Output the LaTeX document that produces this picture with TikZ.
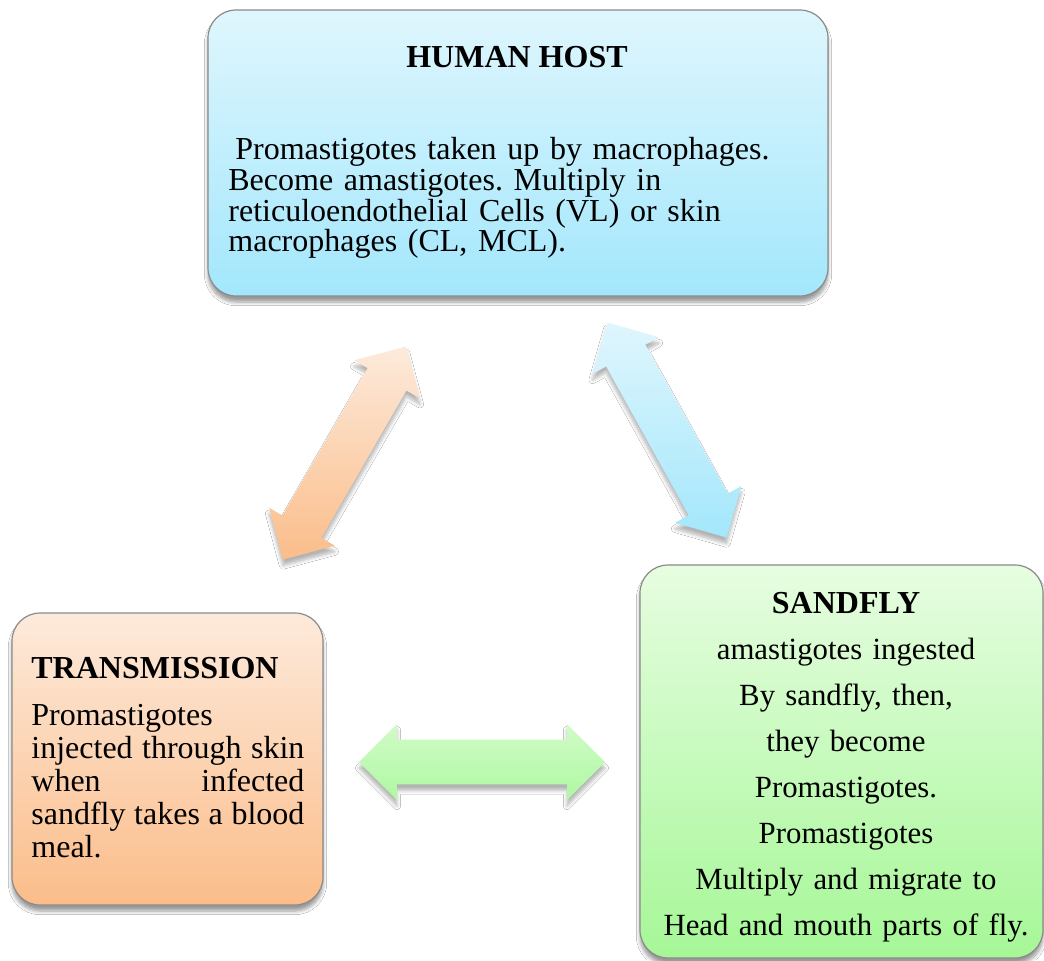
\documentclass[tikz,border=0pt]{standalone}
\usepackage{fontspec}
\setmainfont{Liberation Serif}
\usetikzlibrary{shapes.arrows,shadows.blur}

\definecolor{hosttop}{HTML}{DFF6FD}
\definecolor{hostbot}{HTML}{A3E7FC}
\definecolor{transtop}{HTML}{FDEADB}
\definecolor{transbot}{HTML}{FBBD8A}
\definecolor{flytop}{HTML}{E7FDE1}
\definecolor{flybot}{HTML}{A6F797}
\definecolor{edge}{HTML}{8A8A8A}

\begin{document}
\frenchspacing
\begin{tikzpicture}[x=0.5pt,y=-0.5pt,
    stage/.style={draw=edge,line width=0.6pt,rounded corners=14pt,inner sep=0pt,
        blur shadow={shadow xshift=0pt,shadow yshift=-3pt,shadow blur steps=6,shadow opacity=40}},
    title/.style={font=\fontsize{16}{19}\selectfont\bfseries,inner sep=0pt},
    body/.style 2 args={font=\fontsize{#1}{#2}\selectfont,inner sep=0pt},
    fatarrow/.style={double arrow,inner xsep=0pt,inner ysep=11pt,minimum height=123pt,
        minimum width=37.5pt,double arrow head extend=7.75pt,
        blur shadow={shadow xshift=0pt,shadow yshift=-3pt,shadow blur steps=6,shadow opacity=30}}]

    \useasboundingbox[fill=white] (0,0) rectangle (1044,960);

    % the three stages
    \node[stage,minimum width=310pt,minimum height=143pt,top color=hosttop,bottom color=hostbot]
        (Host) at (518,153) {};
    \node[stage,minimum width=155.5pt,minimum height=146pt,top color=transtop,bottom color=transbot]
        (Trans) at (167.5,759) {};
    \node[stage,minimum width=201.5pt,minimum height=196.5pt,top color=flytop,bottom color=flybot]
        (Fly) at (841.5,761.5) {};

    \node[title,anchor=base] (HostTitle) at (517,67) {HUMAN HOST};
    \node[body={16}{15.4},anchor=base west,text width=290pt,align=left] (HostText) at (228,159.5)
        {\hspace{3.5pt}Promastigotes taken up by macrophages.\\
         Become amastigotes. Multiply in\\
         reticuloendothelial Cells (VL) or skin\\
         macrophages (CL, MCL).};

    \node[title,anchor=base west] (TransTitle) at (31,678) {TRANSMISSION};
    \node[body={16}{16.5},anchor=base west,text width=136.5pt,align=justify] (TransText) at (31,725)
        {\hbadness=10000 Promastigotes\linebreak injected through skin\linebreak
         when infected\linebreak sandfly takes a blood\linebreak meal.};

    \node[title,anchor=base] (FlyTitle) at (846,613) {SANDFLY};
    \node[body={15.4}{23},anchor=base,text width=200pt,align=center] (FlyText) at (846,659)
        {amastigotes ingested\\ By sandfly, then,\\ they become\\ Promastigotes.\\
         Promastigotes\\ Multiply and migrate to\\ Head and mouth parts of fly.};

    % cycle arrows
    \node[fatarrow,rotate=60,top color=transtop,bottom color=transbot] (TransHost) at (344.5,453) {};
    \node[fatarrow,rotate=119,top color=hosttop,bottom color=hostbot] (HostFly) at (667,430) {};
    \node[fatarrow,top color=flytop!65!flybot,bottom color=flybot!90] (FlyTrans) at (482,762) {};

\end{tikzpicture}
\end{document}
